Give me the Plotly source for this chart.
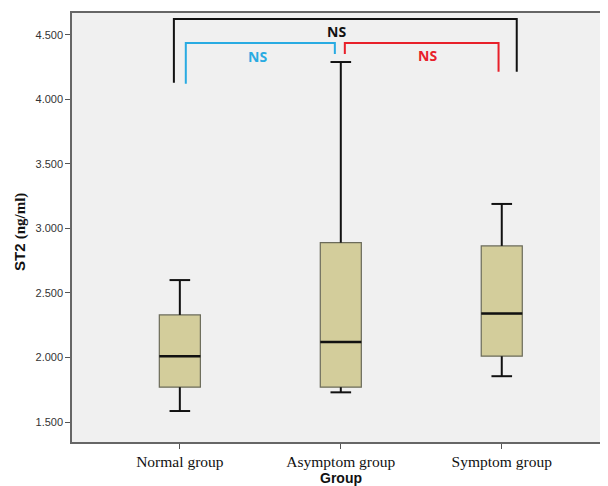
import plotly.graph_objects as go

groups = ["Normal group", "Asymptom group", "Symptom group"]
lower = [1.585, 1.73, 1.855]
q1 = [1.77, 1.77, 2.01]
median = [2.01, 2.12, 2.34]
q3 = [2.33, 2.89, 2.865]
upper = [2.60, 4.29, 3.19]

# significance brackets (x in category units, y in data units)
br_black_x = [-0.037, -0.037, 2.093, 2.093]
br_black_y = [4.129, 4.624, 4.624, 4.214]
br_blue_x = [0.037, 0.037, 0.963, 0.963]
br_blue_y = [4.121, 4.438, 4.438, 4.353]
br_red_x = [1.025, 1.025, 1.98, 1.98]
br_red_y = [4.353, 4.438, 4.438, 4.214]
ns_labels = ["NS", "NS", "NS"]
ns_x = [0.975, 0.48, 1.54]
ns_y = [4.53, 4.33, 4.34]
ns_colors = ["#111111", "#29abe2", "#e8202a"]

BOX_W = 0.255
CAP_W = 0.128

fig = go.Figure()
# whiskers (black) drawn under the boxes
wx, wy = [], []
for i in range(len(groups)):
    wx += [i, i, None, i - CAP_W / 2, i + CAP_W / 2, None,
           i, i, None, i - CAP_W / 2, i + CAP_W / 2, None]
    wy += [lower[i], q1[i], None, lower[i], lower[i], None,
           q3[i], upper[i], None, upper[i], upper[i], None]
fig.add_trace(go.Scatter(x=wx, y=wy, mode="lines", line=dict(color="#111111", width=2),
                         showlegend=False, hoverinfo="skip"))
fig.add_trace(go.Box(
    x=[0, 1, 2], q1=q1, median=median, q3=q3,
    lowerfence=q1, upperfence=q3,
    fillcolor="#d3cd9b", line=dict(color="#6b6b5a", width=1.2),
    width=BOX_W, whiskerwidth=0, boxpoints=False, showlegend=False,
    hoverinfo="skip",
))
mx, my = [], []
for i in range(len(groups)):
    mx += [i - BOX_W / 2, i + BOX_W / 2, None]
    my += [median[i], median[i], None]
fig.add_trace(go.Scatter(x=mx, y=my, mode="lines", line=dict(color="#111111", width=2.5),
                         showlegend=False, hoverinfo="skip"))

for bx, by, col in [(br_black_x, br_black_y, "#111111"),
                    (br_blue_x, br_blue_y, "#29abe2"),
                    (br_red_x, br_red_y, "#e8202a")]:
    fig.add_trace(go.Scatter(x=bx, y=by, mode="lines",
                             line=dict(color=col, width=2),
                             showlegend=False, hoverinfo="skip"))
for t, x, y, c in zip(ns_labels, ns_x, ns_y, ns_colors):
    fig.add_annotation(x=x, y=y, text="<b>" + t + "</b>", showarrow=False,
                       font=dict(family="Open Sans, Liberation Sans", size=14, color=c))

# axis titles as paper annotations
fig.add_annotation(xref="paper", yref="paper", x=(341 - 72) / 536, y=-(478 - 442) / 429,
                   yanchor="middle", xanchor="center", showarrow=False,
                   text="<b>Group</b>",
                   font=dict(family="Liberation Sans", size=14, color="#111111"))
fig.add_annotation(xref="paper", yref="paper", x=-(72 - 20) / 536, y=(442 - 232) / 429,
                   yanchor="middle", xanchor="center", showarrow=False, textangle=-90,
                   text="<b>ST2 <span style='font-family:Liberation Serif'>(ng/ml)</span></b>",
                   font=dict(family="Liberation Sans", size=15, color="#111111"))

# page body has an 8px margin, so the figure is sized to fill the rest
fig.update_layout(
    width=600, height=478,
    margin=dict(l=64, r=0, t=5, b=44, autoexpand=False),
    paper_bgcolor="white", plot_bgcolor="#f0f0f0",
    xaxis=dict(
        range=[-0.67, 2.66], tickmode="array", tickvals=[0, 1, 2], ticktext=groups,
        showline=True, linecolor="#666666", linewidth=1.5, mirror=True, automargin=False,
        ticks="outside", ticklen=5, tickcolor="#555555", showgrid=False, zeroline=False,
        tickfont=dict(family="Liberation Serif, DejaVu Serif", size=15.5, color="#111111"),
    ),
    yaxis=dict(
        range=[1.345, 4.67], tickvals=[1.5, 2.0, 2.5, 3.0, 3.5, 4.0, 4.5], tickformat=".3f",
        showline=True, linecolor="#666666", linewidth=1.5, automargin=False,
        ticks="outside", ticklen=5, tickcolor="#555555", showgrid=False, zeroline=False,
        tickfont=dict(family="Liberation Sans", size=11, color="#333333"),
    ),
)
fig.write_html("out.html")
